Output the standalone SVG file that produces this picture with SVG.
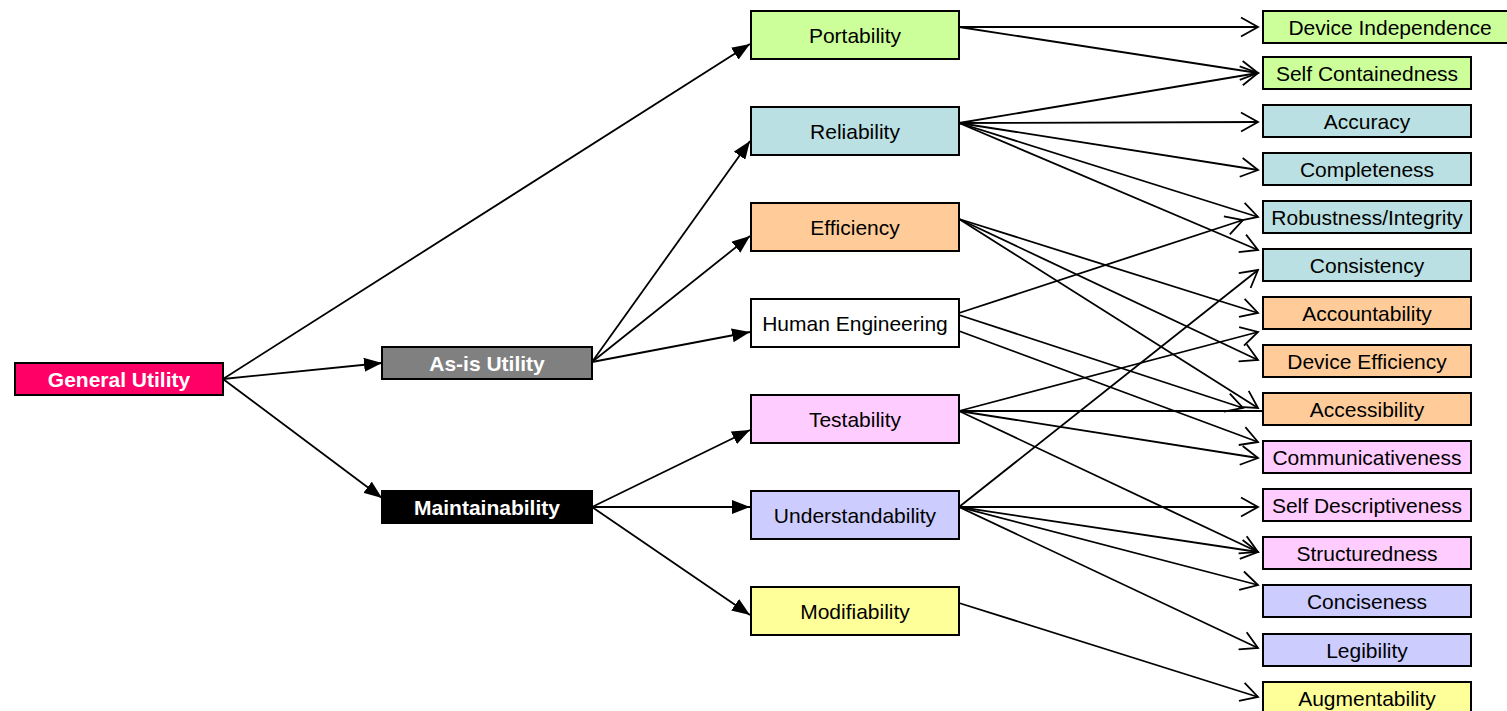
<svg xmlns="http://www.w3.org/2000/svg" width="1507" height="711" viewBox="0 0 1507 711">
<style>
.box{stroke:#000;stroke-width:2}
.t{font-family:"Liberation Sans",Arial,sans-serif;font-size:21px;fill:#000;text-anchor:middle}
.b{font-weight:bold;fill:#fff}
.c line{stroke:#000;stroke-width:1.8;fill:none}
.f{marker-end:url(#fa)}
.o{marker-end:url(#oa)}
</style>
<defs>
<marker id="fa" markerUnits="userSpaceOnUse" markerWidth="18" markerHeight="14" refX="18" refY="7" orient="auto" viewBox="0 0 18 14">
<path d="M0,0 L18,7 L0,14 z" fill="#000"/>
</marker>
<marker id="oa" markerUnits="userSpaceOnUse" markerWidth="20" markerHeight="22" refX="18" refY="11" orient="auto" viewBox="0 0 20 22">
<path d="M1,1.5 L18,11 L1,20.5" fill="none" stroke="#000" stroke-width="1.8"/>
</marker>
</defs>
<rect width="1507" height="711" fill="#fff"/>
<g class="c" id="connectors">
<line class="f" x1="223" y1="379" x2="750" y2="44"/>
<line class="f" x1="223" y1="379" x2="382" y2="363"/>
<line class="f" x1="223" y1="379" x2="382" y2="498"/>
<line class="f" x1="592" y1="362" x2="750" y2="141"/>
<line class="f" x1="592" y1="362" x2="750" y2="236"/>
<line class="f" x1="592" y1="362" x2="750" y2="332"/>
<line class="f" x1="592" y1="507" x2="750" y2="430"/>
<line class="f" x1="592" y1="507" x2="750" y2="507"/>
<line class="f" x1="592" y1="507" x2="750" y2="615"/>
<line class="o" x1="959" y1="27" x2="1258" y2="27"/>
<line class="o" x1="959" y1="27" x2="1258" y2="73"/>
<line class="o" x1="959" y1="123" x2="1258" y2="73"/>
<line class="o" x1="959" y1="123" x2="1258" y2="122"/>
<line class="o" x1="959" y1="123" x2="1258" y2="170"/>
<line class="o" x1="959" y1="123" x2="1258" y2="217"/>
<line class="o" x1="959" y1="123" x2="1258" y2="250"/>
<line class="o" x1="959" y1="219" x2="1258" y2="313"/>
<line class="o" x1="959" y1="219" x2="1258" y2="360"/>
<line class="o" x1="959" y1="219" x2="1258" y2="408"/>
<line class="o" x1="959" y1="313" x2="1243" y2="220"/>
<line class="o" x1="959" y1="315" x2="1243" y2="408"/>
<line class="o" x1="959" y1="331" x2="1258" y2="442"/>
<line class="o" x1="959" y1="411" x2="1258" y2="332"/>
<line x1="959" y1="411" x2="1262" y2="411"/>
<line class="o" x1="959" y1="411" x2="1258" y2="458"/>
<line class="o" x1="959" y1="411" x2="1258" y2="552"/>
<line class="o" x1="959" y1="507" x2="1258" y2="270"/>
<line class="o" x1="959" y1="507" x2="1258" y2="507"/>
<line class="o" x1="959" y1="507" x2="1258" y2="552"/>
<line class="o" x1="959" y1="507" x2="1258" y2="585"/>
<line class="o" x1="959" y1="507" x2="1258" y2="648"/>
<line class="o" x1="959" y1="603" x2="1258" y2="697"/>
</g>
<g id="general-utility"><rect class="box" x="15" y="363" width="208" height="32" fill="#FF0066"/><text class="t b" x="119" y="387">General Utility</text></g>
<g id="as-is-utility"><rect class="box" x="382" y="347" width="210" height="32" fill="#808080"/><text class="t b" x="487" y="371">As-is Utility</text></g>
<g id="maintainability"><rect class="box" x="382" y="491" width="210" height="32" fill="#000"/><text class="t b" x="487" y="515">Maintainability</text></g>
<g id="portability"><rect class="box" x="751" y="11" width="208" height="48" fill="#CCFF99"/><text class="t" x="855" y="43">Portability</text></g>
<g id="reliability"><rect class="box" x="751" y="107" width="208" height="48" fill="#BBE0E3"/><text class="t" x="855" y="139">Reliability</text></g>
<g id="efficiency"><rect class="box" x="751" y="203" width="208" height="48" fill="#FFCC99"/><text class="t" x="855" y="235">Efficiency</text></g>
<g id="human-engineering"><rect class="box" x="751" y="299" width="208" height="48" fill="#FFFFFF"/><text class="t" x="855" y="331">Human Engineering</text></g>
<g id="testability"><rect class="box" x="751" y="395" width="208" height="48" fill="#FFCCFF"/><text class="t" x="855" y="427">Testability</text></g>
<g id="understandability"><rect class="box" x="751" y="491" width="208" height="48" fill="#CCCCFF"/><text class="t" x="855" y="523">Understandability</text></g>
<g id="modifiability"><rect class="box" x="751" y="587" width="208" height="48" fill="#FFFF99"/><text class="t" x="855" y="619">Modifiability</text></g>
<g id="device-independence"><rect class="box" x="1263" y="11" width="256" height="32" fill="#CCFF99"/><text class="t" x="1390" y="35">Device Independence</text></g>
<g id="self-containedness"><rect class="box" x="1263" y="57" width="208" height="32" fill="#CCFF99"/><text class="t" x="1367" y="81">Self Containedness</text></g>
<g id="accuracy"><rect class="box" x="1263" y="105" width="208" height="32" fill="#BBE0E3"/><text class="t" x="1367" y="129">Accuracy</text></g>
<g id="completeness"><rect class="box" x="1263" y="153" width="208" height="32" fill="#BBE0E3"/><text class="t" x="1367" y="177">Completeness</text></g>
<g id="robustness"><rect class="box" x="1263" y="201" width="208" height="32" fill="#BBE0E3"/><text class="t" x="1367" y="225">Robustness/Integrity</text></g>
<g id="consistency"><rect class="box" x="1263" y="249" width="208" height="32" fill="#BBE0E3"/><text class="t" x="1367" y="273">Consistency</text></g>
<g id="accountability"><rect class="box" x="1263" y="297" width="208" height="32" fill="#FFCC99"/><text class="t" x="1367" y="321">Accountability</text></g>
<g id="device-efficiency"><rect class="box" x="1263" y="345" width="208" height="32" fill="#FFCC99"/><text class="t" x="1367" y="369">Device Efficiency</text></g>
<g id="accessibility"><rect class="box" x="1263" y="393" width="208" height="32" fill="#FFCC99"/><text class="t" x="1367" y="417">Accessibility</text></g>
<g id="communicativeness"><rect class="box" x="1263" y="441" width="208" height="32" fill="#FFCCFF"/><text class="t" x="1367" y="465">Communicativeness</text></g>
<g id="self-descriptiveness"><rect class="box" x="1263" y="489" width="208" height="32" fill="#FFCCFF"/><text class="t" x="1367" y="513">Self Descriptiveness</text></g>
<g id="structuredness"><rect class="box" x="1263" y="537" width="208" height="32" fill="#FFCCFF"/><text class="t" x="1367" y="561">Structuredness</text></g>
<g id="conciseness"><rect class="box" x="1263" y="585" width="208" height="32" fill="#CCCCFF"/><text class="t" x="1367" y="609">Conciseness</text></g>
<g id="legibility"><rect class="box" x="1263" y="634" width="208" height="32" fill="#CCCCFF"/><text class="t" x="1367" y="658">Legibility</text></g>
<g id="augmentability"><rect class="box" x="1263" y="682" width="208" height="32" fill="#FFFF99"/><text class="t" x="1367" y="706">Augmentability</text></g>
</svg>
